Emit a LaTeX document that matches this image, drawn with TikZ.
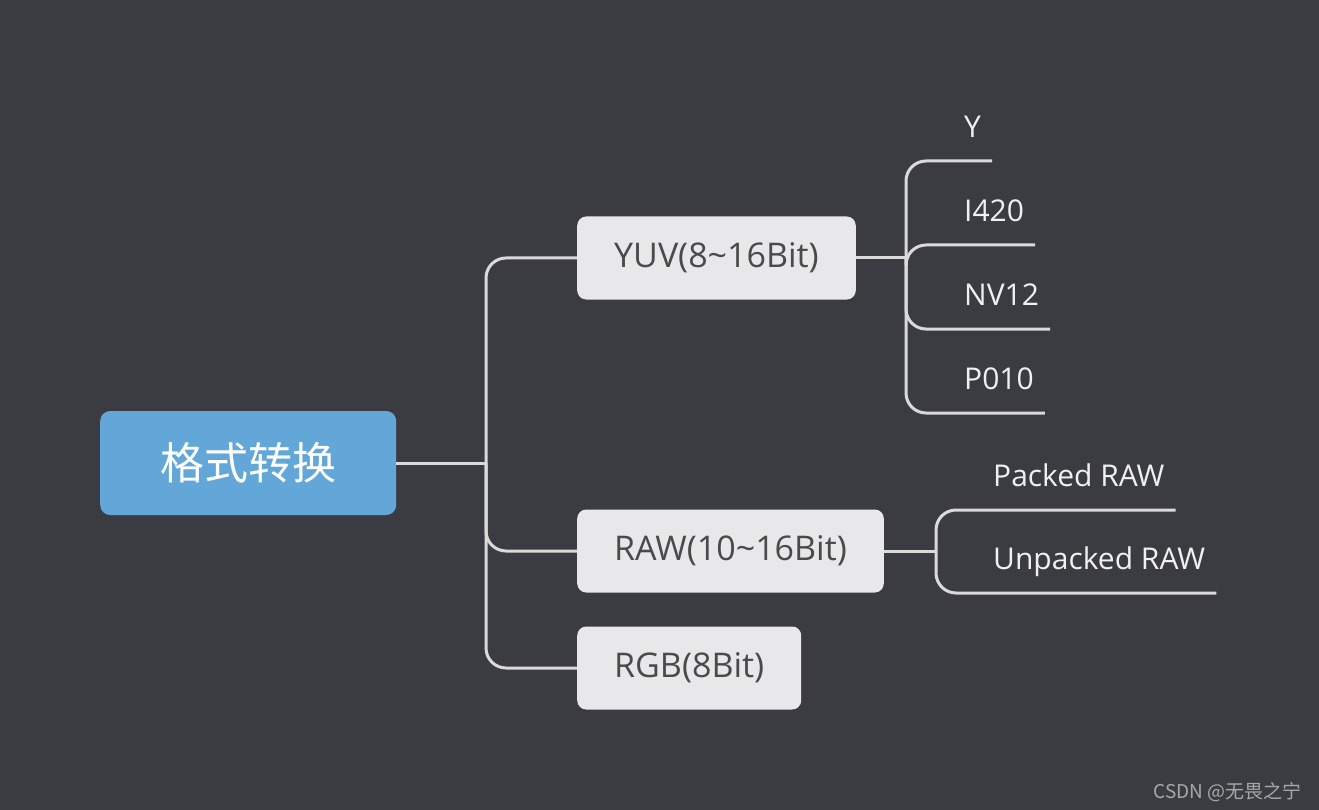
\documentclass[tikz,border=0pt]{standalone}
\usepackage{fontspec}
\setmainfont{Open Sans}
\newfontfamily\cjk{Noto Sans CJK SC}
\usetikzlibrary{positioning}
\definecolor{bg}{RGB}{59,60,66}
\definecolor{rootblue}{RGB}{99,167,216}
\definecolor{boxgray}{RGB}{232,232,234}
\definecolor{boxtext}{RGB}{74,74,74}
\definecolor{linkgray}{RGB}{218,218,218}
\definecolor{leaftext}{RGB}{240,240,240}
\definecolor{markgray}{RGB}{168,168,168}
\tikzset{
  link/.style={draw=linkgray,line width=3pt,rounded corners=20pt},
  rootbox/.style={fill=rootblue,text=white,rounded corners=10pt,minimum height=104pt,inner xsep=60pt,font=\cjk\fontsize{44}{50}\selectfont},
  topic/.style={fill=boxgray,text=boxtext,rounded corners=9pt,minimum height=83pt,inner xsep=37pt,font=\fontsize{34}{40}\selectfont},
  leaf/.style={text=leaftext,inner xsep=11pt,inner ysep=0pt,text depth=23pt,font=\fontsize{30}{34}\selectfont}
}
\begin{document}
\begin{tikzpicture}[x=1pt,y=-1pt]
  \fill[bg] (0,0) rectangle (1319,810);
  \node[rootbox,anchor=west] (root) at (100,463) {格式转换};
  \node[topic,anchor=west] (yuv) at (577,258) {YUV(8\textasciitilde16Bit)};
  \node[topic,anchor=west] (raw) at (577,551) {RAW(10\textasciitilde16Bit)};
  \node[topic,anchor=west] (rgb) at (577,668) {RGB(8Bit)};
  \coordinate (rootJ) at (486,463);
  \coordinate (yuvJ) at (906,258);
  \coordinate (rawJ) at (936,551);
  \node[leaf,anchor=south west] (y) at (953,161) {Y};
  \node[leaf,anchor=south west] (i420) at (953,245) {I420};
  \node[leaf,anchor=south west] (nv12) at (953,329) {NV12};
  \node[leaf,anchor=south west] (p010) at (953,413) {P010};
  \node[leaf,anchor=south west] (packed) at (982,510) {Packed RAW};
  \node[leaf,anchor=south west] (unpacked) at (982,593) {Unpacked RAW};
  \node[anchor=east,text=markgray,font=\cjk\fontsize{19}{21}\selectfont] (mark) at (1305,792) {CSDN @无畏之宁};

  \draw[link] (root.east) -- (rootJ);
  \foreach \t in {yuv,raw,rgb} \draw[link] (rootJ) |- (\t.west);
  \draw[link] (yuv.east) -- (yuvJ);
  \foreach \l in {y,i420,nv12,p010} \draw[link] (yuvJ) |- (\l.south west) -- (\l.south east);
  \draw[link] (raw.east) -- (rawJ);
  \foreach \l in {packed,unpacked} \draw[link] (rawJ) |- (\l.south west) -- (\l.south east);
\end{tikzpicture}
\end{document}
